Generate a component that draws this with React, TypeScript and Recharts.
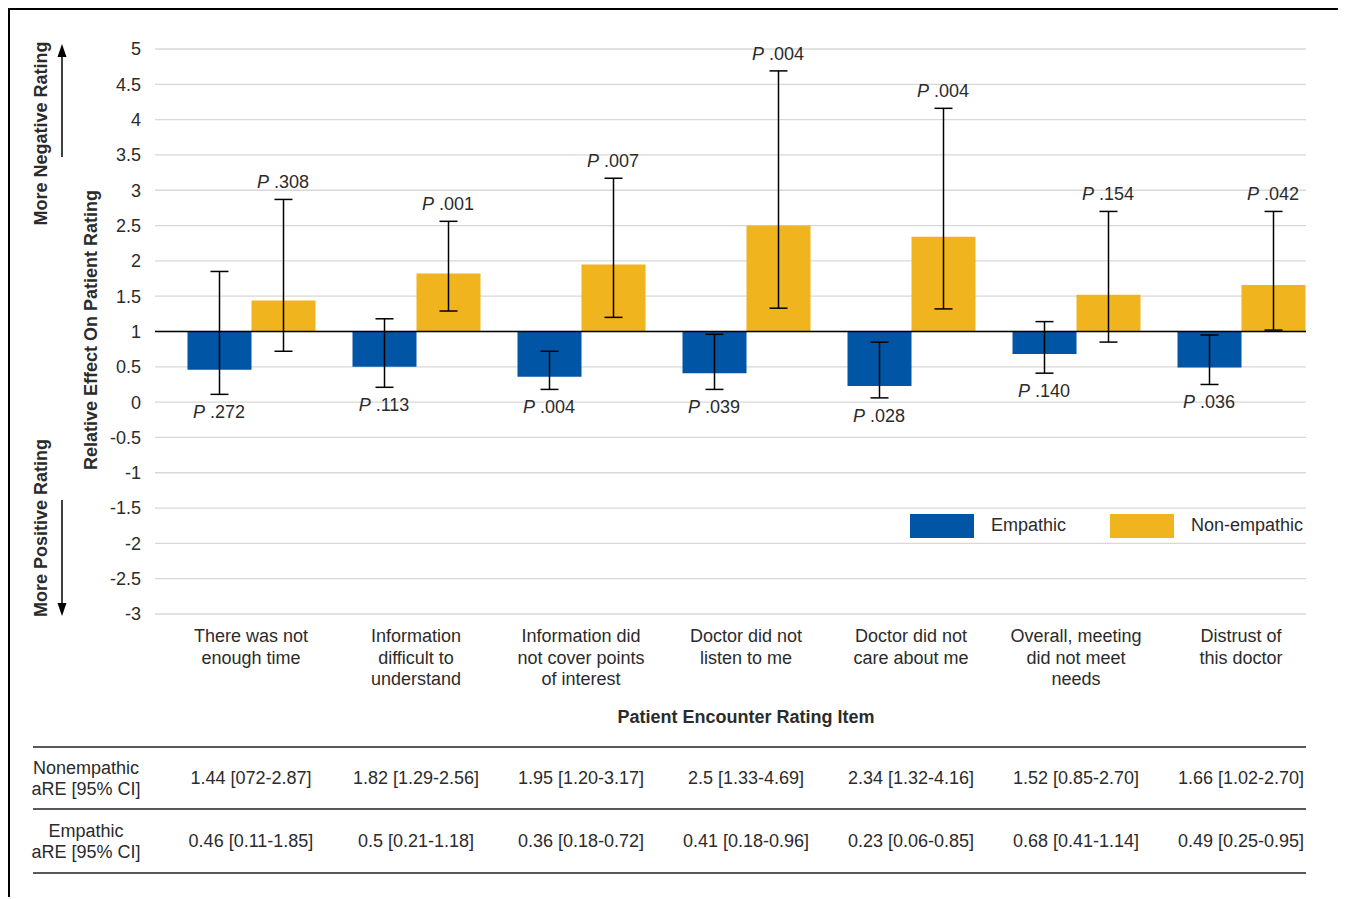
import React from 'react'
import { ComposedChart, Bar, Line, XAxis, YAxis, CartesianGrid, ReferenceLine, ErrorBar } from 'recharts'

const CATEGORIES = [
  'There was not\nenough time',
  'Information\ndifficult to\nunderstand',
  'Information did\nnot cover points\nof interest',
  'Doctor did not\nlisten to me',
  'Doctor did not\ncare about me',
  'Overall, meeting\ndid not meet\nneeds',
  'Distrust of\nthis doctor',
]

// adjusted relative effect (aRE) with 95% CI
const EMP_ARE = [0.46, 0.5, 0.36, 0.41, 0.23, 0.68, 0.49]
const EMP_LO = [0.11, 0.21, 0.18, 0.18, 0.06, 0.41, 0.25]
const EMP_HI = [1.85, 1.18, 0.72, 0.96, 0.85, 1.14, 0.95]
const EMP_P = ['.272', '.113', '.004', '.039', '.028', '.140', '.036']

const NON_ARE = [1.44, 1.82, 1.95, 2.5, 2.34, 1.52, 1.66]
const NON_LO = [0.72, 1.29, 1.2, 1.33, 1.32, 0.85, 1.02]
const NON_HI = [2.87, 2.56, 3.17, 4.69, 4.16, 2.7, 2.7]
const NON_P = ['.308', '.001', '.007', '.004', '.004', '.154', '.042']

const NON_TABLE = [
  '1.44 [072-2.87]',
  '1.82 [1.29-2.56]',
  '1.95 [1.20-3.17]',
  '2.5 [1.33-4.69]',
  '2.34 [1.32-4.16]',
  '1.52 [0.85-2.70]',
  '1.66 [1.02-2.70]',
]
const EMP_TABLE = [
  '0.46 [0.11-1.85]',
  '0.5 [0.21-1.18]',
  '0.36 [0.18-0.72]',
  '0.41 [0.18-0.96]',
  '0.23 [0.06-0.85]',
  '0.68 [0.41-1.14]',
  '0.49 [0.25-0.95]',
]

const Y_TICKS = [5, 4.5, 4, 3.5, 3, 2.5, 2, 1.5, 1, 0.5, 0, -0.5, -1, -1.5, -2, -2.5, -3]

// bars grow from 1 (no effect), so values are plotted relative to it
const BASELINE = 1

const BLUE = '#0155a5'
const YELLOW = '#f0b41f'
const TEXT = '#2b2b2b'
const GRID = '#d8d8d8'
const FONT = '"Liberation Sans", Arial, Helvetica, sans-serif'
const BAR_SIZE = 64

const data = CATEGORIES.map((item, i) => ({
  item,
  emp: EMP_ARE[i] - BASELINE,
  empErr: [EMP_ARE[i] - EMP_LO[i], EMP_HI[i] - EMP_ARE[i]],
  empLow: EMP_LO[i] - BASELINE,
  non: NON_ARE[i] - BASELINE,
  nonErr: [NON_ARE[i] - NON_LO[i], NON_HI[i] - NON_ARE[i]],
  nonHigh: NON_HI[i] - BASELINE,
}))

const yTicks = Y_TICKS.map((t) => t - BASELINE)
const yDomain = [Math.min(...yTicks), Math.max(...yTicks)]

function CategoryTick({ x, y, payload }: any) {
  const lines = String(payload.value).split('\n')
  return (
    <text x={x} y={y} textAnchor="middle" fill={TEXT} fontSize={18}>
      {lines.map((l, i) => (
        <tspan key={i} x={x} dy={i === 0 ? 28 : 21.5}>
          {l}
        </tspan>
      ))}
    </text>
  )
}

function tableTick(labels: string[], dy: number) {
  return (props: any) => {
    const idx = props.index ?? props.payload?.index ?? 0
    return (
      <text x={props.x} y={props.y + dy} textAnchor="middle" fill={TEXT} fontSize={18}>
        {labels[idx]}
      </text>
    )
  }
}

function pLabel(labels: string[], dx: number, dy: number, prefix: string) {
  return (props: any) => {
    const { cx, cy, index } = props
    return (
      <text
        key={`${prefix}-${index}`}
        x={cx + dx}
        y={cy + dy}
        textAnchor="middle"
        dominantBaseline="central"
        fill={TEXT}
        fontSize={18}
      >
        <tspan fontStyle="italic">P</tspan> {labels[index]}
      </text>
    )
  }
}

const axisPadding = { left: 13.5, right: -17.5 }

export default function App() {
  return (
    <div
      style={{
        position: 'relative',
        width: 1331,
        height: 887,
        border: '2px solid #000',
        borderBottom: 'none',
        fontFamily: FONT,
        background: '#fff',
      }}
    >
      <ComposedChart
        width={1320}
        height={880}
        data={data}
        barGap={0}
        margin={{ top: 39, right: 24, bottom: 17, left: 75 }}
      >
        <CartesianGrid vertical={false} stroke={GRID} strokeWidth={1.3} />
        <YAxis
          type="number"
          domain={yDomain}
          ticks={yTicks}
          interval={0}
          width={70}
          axisLine={false}
          tickLine={false}
          tickMargin={8}
          tick={{ fontSize: 18, fill: TEXT }}
          tickFormatter={(v: number) => String(Math.round((v + BASELINE) * 10) / 10)}
        />
        <XAxis
          dataKey="item"
          height={133}
          interval={0}
          axisLine={false}
          tickLine={false}
          tickSize={0}
          tickMargin={0}
          padding={axisPadding}
          tick={<CategoryTick />}
        />
        {/* table rows under the chart, aligned to the category scale */}
        <XAxis
          xAxisId="row1"
          dataKey="item"
          height={62}
          interval={0}
          axisLine={false}
          tickLine={false}
          tickSize={0}
          tickMargin={0}
          padding={axisPadding}
          tick={tableTick(NON_TABLE, 37)}
        />
        <XAxis
          xAxisId="row2"
          dataKey="item"
          height={64}
          interval={0}
          axisLine={false}
          tickLine={false}
          tickSize={0}
          tickMargin={0}
          padding={axisPadding}
          tick={tableTick(EMP_TABLE, 38)}
        />
        <ReferenceLine y={0} stroke="#000" strokeWidth={1.5} />
        <Bar dataKey="emp" fill={BLUE} barSize={BAR_SIZE} isAnimationActive={false}>
          <ErrorBar dataKey="empErr" width={9} stroke="#000" strokeWidth={1.5} />
        </Bar>
        <Bar dataKey="non" fill={YELLOW} barSize={BAR_SIZE} isAnimationActive={false}>
          <ErrorBar dataKey="nonErr" width={9} stroke="#000" strokeWidth={1.5} />
        </Bar>
        <Line
          dataKey="nonHigh"
          stroke="none"
          legendType="none"
          activeDot={false}
          dot={pLabel(NON_P, BAR_SIZE / 2, -17, 'non')}
          isAnimationActive={false}
        />
        <Line
          dataKey="empLow"
          stroke="none"
          legendType="none"
          activeDot={false}
          dot={pLabel(EMP_P, -BAR_SIZE / 2, 18, 'emp')}
          isAnimationActive={false}
        />
      </ComposedChart>

      <svg
        width={1331}
        height={887}
        style={{ position: 'absolute', left: 0, top: 0, pointerEvents: 'none' }}
      >
        {/* side labels and arrows */}
        <text
          x={31}
          y={123.5}
          transform="rotate(-90 31 123.5)"
          textAnchor="middle"
          dominantBaseline="central"
          fontSize={18}
          fontWeight="bold"
          fill={TEXT}
        >
          More Negative Rating
        </text>
        <line x1={52} y1={147} x2={52} y2={44} stroke="#000" strokeWidth={1.5} />
        <polygon points="52,34 47.5,47 56.5,47" fill="#000" />
        <text
          x={31}
          y={518}
          transform="rotate(-90 31 518)"
          textAnchor="middle"
          dominantBaseline="central"
          fontSize={18}
          fontWeight="bold"
          fill={TEXT}
        >
          More Positive Rating
        </text>
        <line x1={52} y1={490} x2={52} y2={596} stroke="#000" strokeWidth={1.5} />
        <polygon points="52,606 47.5,593 56.5,593" fill="#000" />
        <text
          x={81}
          y={320}
          transform="rotate(-90 81 320)"
          textAnchor="middle"
          dominantBaseline="central"
          fontSize={18}
          fontWeight="bold"
          fill={TEXT}
        >
          Relative Effect On Patient Rating
        </text>
        <text x={736} y={707} textAnchor="middle" dominantBaseline="central" fontSize={18} fontWeight="bold" fill={TEXT}>
          Patient Encounter Rating Item
        </text>

        {/* legend */}
        <rect x={900} y={504} width={64} height={24} fill={BLUE} />
        <text x={981} y={515} dominantBaseline="central" fontSize={18} fill={TEXT}>
          Empathic
        </text>
        <rect x={1100} y={504} width={64} height={24} fill={YELLOW} />
        <text x={1181} y={515} dominantBaseline="central" fontSize={18} fill={TEXT}>
          Non-empathic
        </text>

        {/* table rules and row headers */}
        <line x1={23} x2={1296} y1={737} y2={737} stroke="#222" strokeWidth={1.5} />
        <line x1={23} x2={1296} y1={799} y2={799} stroke="#222" strokeWidth={1.5} />
        <line x1={23} x2={1296} y1={863} y2={863} stroke="#222" strokeWidth={1.5} />
        <text x={76} textAnchor="middle" fontSize={18} fill={TEXT}>
          <tspan x={76} y={764}>Nonempathic</tspan>
          <tspan x={76} y={785}>aRE [95% CI]</tspan>
        </text>
        <text x={76} textAnchor="middle" fontSize={18} fill={TEXT}>
          <tspan x={76} y={827}>Empathic</tspan>
          <tspan x={76} y={848}>aRE [95% CI]</tspan>
        </text>
      </svg>
    </div>
  )
}
